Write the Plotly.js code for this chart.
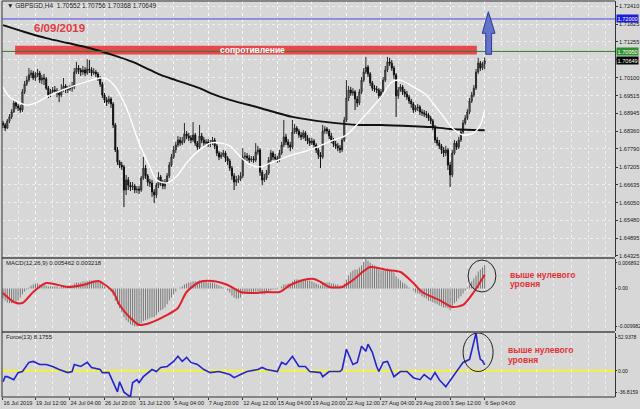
<!DOCTYPE html>
<html><head><meta charset="utf-8">
<script src="https://cdn.plot.ly/plotly-3.0.1.min.js"></script>
<style>html,body{margin:0;padding:0;background:#d7d7d7;}#chart{width:640px;height:409px;}</style>
</head><body><div id="chart"></div>
<script>
// ---- time axis labels (bar index -> label) ----
const tickIdx = [0,15,31,47,63,79,95,111,127,143,159,175,191,207,223];
const tickText = ['16 Jul 2019','19 Jul 12:00','24 Jul 04:00','26 Jul 20:00','31 Jul 12:00','5 Aug 04:00','7 Aug 20:00','12 Aug 12:00','15 Aug 04:00','19 Aug 20:00','22 Aug 12:00','27 Aug 04:00','29 Aug 20:00','3 Sep 12:00','6 Sep 04:00'];

// ---- GBPSGD H4 candles ----
const open = [1.6863,
1.6857,1.6847,1.6870,1.6883,1.6899,1.6928,1.6918,1.6912,1.6905,1.6964,
1.6989,1.7002,1.7019,1.7025,1.7009,1.7019,1.7025,1.7002,1.7009,1.7006,
1.6976,1.6954,1.6964,1.6970,1.6967,1.6960,1.6954,1.6970,1.6983,1.6970,
1.6973,1.6976,1.6980,1.7028,1.7041,1.7035,1.7028,1.7035,1.7025,1.7038,
1.7035,1.7025,1.7028,1.7022,1.7009,1.6989,1.6954,1.6938,1.6931,1.6941,
1.6925,1.6857,1.6776,1.6737,1.6727,1.6721,1.6646,1.6679,1.6662,1.6656,
1.6659,1.6646,1.6649,1.6646,1.6685,1.6717,1.6692,1.6672,1.6669,1.6640,
1.6630,1.6662,1.6688,1.6669,1.6659,1.6672,1.6692,1.6727,1.6753,1.6776,
1.6792,1.6808,1.6798,1.6805,1.6828,1.6821,1.6815,1.6808,1.6824,1.6798,
1.6785,1.6821,1.6808,1.6798,1.6802,1.6795,1.6798,1.6808,1.6789,1.6766,
1.6753,1.6760,1.6766,1.6750,1.6740,1.6717,1.6692,1.6672,1.6679,1.6682,
1.6692,1.6753,1.6756,1.6750,1.6743,1.6747,1.6743,1.6769,1.6776,1.6704,
1.6679,1.6685,1.6701,1.6743,1.6766,1.6753,1.6747,1.6743,1.6766,1.6792,
1.6818,1.6802,1.6792,1.6785,1.6834,1.6847,1.6837,1.6824,1.6818,1.6831,
1.6815,1.6805,1.6798,1.6805,1.6792,1.6776,1.6760,1.6753,1.6837,1.6844,
1.6837,1.6821,1.6808,1.6795,1.6789,1.6782,1.6776,1.6808,1.6873,1.6944,
1.6970,1.6960,1.6964,1.6941,1.6928,1.6964,1.7002,1.7028,1.7044,1.7022,
1.6993,1.6976,1.6973,1.6970,1.6951,1.6964,1.7002,1.7035,1.7061,1.7057,
1.7041,1.7019,1.6951,1.6970,1.6980,1.6964,1.6957,1.6947,1.6934,1.6925,
1.6905,1.6912,1.6915,1.6899,1.6896,1.6892,1.6889,1.6879,1.6870,1.6850,
1.6808,1.6798,1.6789,1.6776,1.6766,1.6776,1.6727,1.6695,1.6766,1.6798,
1.6785,1.6808,1.6834,1.6863,1.6879,1.6899,1.6934,1.6954,1.6976,1.7028,
1.7057,1.7041,1.70552];
const high = [1.6870,1.6863,1.6876,1.6892,1.6908,1.6938,1.6934,1.6925,1.6921,1.6973,
1.6999,1.7015,1.7041,1.7035,1.7032,1.7028,1.7038,1.7032,1.7019,1.7022,
1.7012,1.6983,1.6973,1.6980,1.6983,1.6976,1.6970,1.6989,1.7009,1.6989,
1.6983,1.6986,1.6996,1.7041,1.7061,1.7051,1.7041,1.7048,1.7044,1.7070,
1.7067,1.7044,1.7041,1.7035,1.7028,1.7015,1.6996,1.6960,1.6947,1.6951,
1.6947,1.6931,1.6863,1.6785,1.6743,1.6737,1.6727,1.6695,1.6688,1.6672,
1.6672,1.6666,1.6659,1.6659,1.6692,1.6753,1.6727,1.6698,1.6682,1.6679,
1.6649,1.6669,1.6704,1.6695,1.6679,1.6682,1.6701,1.6737,1.6763,1.6789,
1.6802,1.6821,1.6818,1.6818,1.6863,1.6837,1.6831,1.6824,1.6866,1.6831,
1.6805,1.6857,1.6831,1.6818,1.6811,1.6811,1.6808,1.6818,1.6815,1.6795,
1.6772,1.6769,1.6776,1.6772,1.6756,1.6747,1.6724,1.6701,1.6692,1.6695,
1.6704,1.6782,1.6769,1.6766,1.6760,1.6756,1.6756,1.6798,1.6789,1.6782,
1.6711,1.6698,1.6711,1.6753,1.6776,1.6772,1.6763,1.6756,1.6776,1.6802,
1.6873,1.6828,1.6811,1.6802,1.6873,1.6860,1.6853,1.6844,1.6834,1.6840,
1.6837,1.6824,1.6815,1.6815,1.6811,1.6798,1.6782,1.6769,1.6857,1.6853,
1.6850,1.6844,1.6831,1.6815,1.6805,1.6798,1.6792,1.6818,1.6883,1.7002,
1.6983,1.6980,1.6976,1.6970,1.6951,1.6973,1.7012,1.7041,1.7077,1.7051,
1.7028,1.6999,1.6986,1.6983,1.6976,1.6973,1.7012,1.7048,1.7077,1.7074,
1.7067,1.7048,1.7025,1.6980,1.6989,1.6986,1.6973,1.6967,1.6954,1.6941,
1.6931,1.6921,1.6925,1.6921,1.6908,1.6905,1.6902,1.6896,1.6886,1.6876,
1.6857,1.6818,1.6808,1.6795,1.6785,1.6789,1.6782,1.6737,1.6776,1.6808,
1.6805,1.6818,1.6844,1.6873,1.6889,1.6908,1.6944,1.6964,1.6986,1.7038,
1.7074,1.7064,1.7061,1.70756];
const low = [1.6847,1.6837,1.6844,1.6863,1.6876,1.6896,1.6908,1.6902,1.6896,1.6899,
1.6957,1.6983,1.6996,1.7009,1.7002,1.6999,1.7012,1.6993,1.6989,1.6986,
1.6970,1.6944,1.6947,1.6957,1.6957,1.6947,1.6931,1.6947,1.6964,1.6960,
1.6960,1.6967,1.6964,1.6973,1.7022,1.7022,1.7015,1.7019,1.7015,1.7019,
1.7025,1.7015,1.7019,1.7012,1.6999,1.6980,1.6944,1.6928,1.6918,1.6925,
1.6912,1.6847,1.6769,1.6727,1.6717,1.6711,1.6591,1.6630,1.6646,1.6643,
1.6646,1.6636,1.6636,1.6633,1.6640,1.6679,1.6682,1.6659,1.6656,1.6624,
1.6604,1.6620,1.6653,1.6659,1.6649,1.6649,1.6666,1.6685,1.6721,1.6747,
1.6766,1.6785,1.6789,1.6792,1.6798,1.6811,1.6805,1.6798,1.6802,1.6789,
1.6776,1.6779,1.6798,1.6789,1.6792,1.6785,1.6785,1.6792,1.6779,1.6756,
1.6743,1.6747,1.6753,1.6737,1.6727,1.6708,1.6679,1.6646,1.6659,1.6669,
1.6675,1.6685,1.6743,1.6740,1.6734,1.6737,1.6734,1.6737,1.6760,1.6692,
1.6662,1.6672,1.6679,1.6695,1.6737,1.6743,1.6737,1.6734,1.6737,1.6760,
1.6785,1.6792,1.6782,1.6772,1.6779,1.6828,1.6828,1.6815,1.6808,1.6811,
1.6805,1.6795,1.6789,1.6792,1.6782,1.6766,1.6747,1.6717,1.6747,1.6828,
1.6828,1.6811,1.6798,1.6785,1.6779,1.6772,1.6766,1.6769,1.6802,1.6866,
1.6934,1.6951,1.6951,1.6905,1.6915,1.6921,1.6957,1.6996,1.7022,1.7012,
1.6983,1.6967,1.6964,1.6960,1.6941,1.6944,1.6957,1.6996,1.7028,1.7048,
1.7032,1.7006,1.6883,1.6941,1.6964,1.6954,1.6947,1.6938,1.6925,1.6912,
1.6896,1.6899,1.6902,1.6889,1.6886,1.6883,1.6879,1.6870,1.6860,1.6840,
1.6798,1.6789,1.6779,1.6763,1.6753,1.6756,1.6711,1.6656,1.6688,1.6760,
1.6776,1.6779,1.6802,1.6828,1.6857,1.6873,1.6892,1.6928,1.6947,1.6970,
1.7022,1.7032,1.7035,1.70368];
const close = [1.6857,1.6847,1.6870,1.6883,1.6899,1.6928,1.6918,1.6912,1.6905,1.6964,
1.6989,1.7002,1.7019,1.7025,1.7009,1.7019,1.7025,1.7002,1.7009,1.7006,
1.6976,1.6954,1.6964,1.6970,1.6967,1.6960,1.6954,1.6970,1.6983,1.6970,
1.6973,1.6976,1.6980,1.7028,1.7041,1.7035,1.7028,1.7035,1.7025,1.7038,
1.7035,1.7025,1.7028,1.7022,1.7009,1.6989,1.6954,1.6938,1.6931,1.6941,
1.6925,1.6857,1.6776,1.6737,1.6727,1.6721,1.6646,1.6679,1.6662,1.6656,
1.6659,1.6646,1.6649,1.6646,1.6685,1.6717,1.6692,1.6672,1.6669,1.6640,
1.6630,1.6662,1.6688,1.6669,1.6659,1.6672,1.6692,1.6727,1.6753,1.6776,
1.6792,1.6808,1.6798,1.6805,1.6828,1.6821,1.6815,1.6808,1.6824,1.6798,
1.6785,1.6821,1.6808,1.6798,1.6802,1.6795,1.6798,1.6808,1.6789,1.6766,
1.6753,1.6760,1.6766,1.6750,1.6740,1.6717,1.6692,1.6672,1.6679,1.6682,
1.6692,1.6753,1.6756,1.6750,1.6743,1.6747,1.6743,1.6769,1.6776,1.6704,
1.6679,1.6685,1.6701,1.6743,1.6766,1.6753,1.6747,1.6743,1.6766,1.6792,
1.6818,1.6802,1.6792,1.6785,1.6834,1.6847,1.6837,1.6824,1.6818,1.6831,
1.6815,1.6805,1.6798,1.6805,1.6792,1.6776,1.6760,1.6753,1.6837,1.6844,
1.6837,1.6821,1.6808,1.6795,1.6789,1.6782,1.6776,1.6808,1.6873,1.6944,
1.6970,1.6960,1.6964,1.6941,1.6928,1.6964,1.7002,1.7028,1.7044,1.7022,
1.6993,1.6976,1.6973,1.6970,1.6951,1.6964,1.7002,1.7035,1.7061,1.7057,
1.7041,1.7019,1.6951,1.6970,1.6980,1.6964,1.6957,1.6947,1.6934,1.6925,
1.6905,1.6912,1.6915,1.6899,1.6896,1.6892,1.6889,1.6879,1.6870,1.6850,
1.6808,1.6798,1.6789,1.6776,1.6766,1.6776,1.6727,1.6695,1.6766,1.6798,
1.6785,1.6808,1.6834,1.6863,1.6879,1.6899,1.6934,1.6954,1.6976,1.7028,
1.7057,1.7041,1.7055,1.70649];

// ---- moving averages (read at bar indices) ----
const maSlowIdx = [0,10,20,30,40,51,60,68,73,80,91,96,105,119,134,150,165,175,190,198,207,223];
const maSlow = [1.7180,1.7158,1.7138,1.7122,1.7106,1.7083,1.7061,1.7035,1.7019,1.7002,1.6976,1.6960,1.6938,1.6912,1.6883,1.6866,1.6857,1.6857,1.6853,1.6850,1.6844,1.6840];
const maFastIdx = [0,3,8,11,16,22,30,37,45,48,52,57,63,68,71,76,81,85,91,96,101,105,110,114,119,124,134,142,153,159,167,175,180,184,190,196,199,204,208,213,218,221,223];
const maFast = [1.6980,1.6947,1.6928,1.6921,1.6931,1.6954,1.6976,1.6993,1.7009,1.7006,1.6980,1.6915,1.6798,1.6721,1.6679,1.6669,1.6695,1.6734,1.6776,1.6798,1.6798,1.6789,1.6753,1.6730,1.6721,1.6734,1.6760,1.6776,1.6808,1.6824,1.6883,1.6947,1.6996,1.7002,1.6980,1.6954,1.6928,1.6883,1.6847,1.6824,1.6831,1.6857,1.6905];

// ---- MACD(12,26,9) ----
const macdHist = [-0.00234,-0.00281,-0.00328,-0.00351,-0.00351,-0.00328,-0.00304,-0.00281,-0.00211,-0.00140,
-0.00070,-0.00023,0.00023,0.00070,0.00094,0.00117,0.00117,0.00094,0.00094,0.00094,
0.00070,0.00047,0.00047,0.00047,0.00047,0.00047,0.00023,0.00047,0.00047,0.00070,
0.00070,0.00070,0.00070,0.00117,0.00140,0.00140,0.00140,0.00164,0.00164,0.00164,
0.00187,0.00187,0.00187,0.00187,0.00164,0.00140,0.00094,0.00047,0.00000,-0.00023,
-0.00070,-0.00164,-0.00281,-0.00374,-0.00468,-0.00562,-0.00679,-0.00749,-0.00796,-0.00842,
-0.00866,-0.00889,-0.00889,-0.00866,-0.00819,-0.00772,-0.00749,-0.00725,-0.00702,-0.00679,
-0.00679,-0.00632,-0.00562,-0.00515,-0.00491,-0.00445,-0.00374,-0.00281,-0.00211,-0.00140,
-0.00070,0.00000,0.00023,0.00047,0.00094,0.00117,0.00140,0.00140,0.00164,0.00164,
0.00164,0.00187,0.00187,0.00164,0.00164,0.00140,0.00140,0.00140,0.00117,0.00094,
0.00070,0.00047,0.00023,0.00000,-0.00047,-0.00094,-0.00164,-0.00211,-0.00234,-0.00234,
-0.00211,-0.00140,-0.00117,-0.00117,-0.00094,-0.00094,-0.00094,-0.00070,-0.00070,-0.00094,
-0.00140,-0.00140,-0.00117,-0.00070,-0.00047,-0.00023,-0.00023,-0.00023,0.00000,0.00047,
0.00094,0.00094,0.00117,0.00117,0.00164,0.00211,0.00211,0.00211,0.00211,0.00211,
0.00211,0.00187,0.00187,0.00164,0.00140,0.00117,0.00094,0.00070,0.00117,0.00140,
0.00140,0.00140,0.00117,0.00117,0.00094,0.00094,0.00070,0.00070,0.00117,0.00211,
0.00304,0.00374,0.00421,0.00445,0.00445,0.00491,0.00538,0.00620,0.00689,0.00650,
0.00600,0.00562,0.00538,0.00491,0.00445,0.00421,0.00421,0.00445,0.00468,0.00445,
0.00421,0.00374,0.00281,0.00234,0.00187,0.00140,0.00117,0.00070,0.00023,0.00000,
-0.00047,-0.00094,-0.00117,-0.00140,-0.00187,-0.00211,-0.00234,-0.00281,-0.00304,-0.00328,
-0.00351,-0.00374,-0.00398,-0.00421,-0.00445,-0.00445,-0.00468,-0.00515,-0.00421,-0.00351,
-0.00304,-0.00234,-0.00187,-0.00117,-0.00047,0.00023,0.00094,0.00164,0.00234,0.00304,
0.00398,0.00445,0.00491,0.005462];
const sigIdx = [0,5,9,14,20,30,37,44,46,51,54,59,63,68,76,81,85,91,97,104,110,116,122,128,133,139,144,147,151,157,162,170,178,184,190,194,202,208,213,218,223];
const sigVal = [-0.00108,-0.00318,-0.00342,-0.00084,0.00126,0.00033,0.00080,0.00173,0.00126,-0.00084,-0.00388,-0.00693,-0.00856,-0.00810,-0.00622,-0.00459,-0.00084,0.00150,0.00173,0.00080,-0.00084,-0.00108,-0.00084,-0.00084,0.00080,0.00197,0.00220,0.00150,0.00033,0.00033,0.00197,0.00501,0.00431,0.00384,0.00126,-0.00084,-0.00271,-0.00435,-0.00388,-0.00084,0.003218];

// ---- Force(13) ----
const forceIdx = [0,1,2,5,7,9,12,14,17,20,23,26,30,32,33,36,39,41,45,46,49,51,53,54,56,59,60,62,63,65,67,69,71,73,76,79,81,83,85,87,90,93,96,100,105,107,110,113,118,120,122,127,129,131,134,137,140,142,147,148,151,156,157,159,162,164,166,168,169,171,173,174,176,178,179,181,184,187,190,193,195,198,200,202,205,208,210,213,216,219,220,221,222,223];
const forceVal = [-15.4,-8.3,-8.3,-12.5,-2.6,-1.1,11.7,13.1,8.8,8.8,6.0,1.7,-2.6,-1.1,8.8,6.0,11.7,4.6,1.7,-2.6,-2.6,-16.8,-29.6,-15.4,-30.0,-36.8,-16.8,-12.5,-16.8,-8.3,-2.6,1.7,-1.1,4.6,6.0,13.1,20.2,13.1,18.8,11.7,8.8,1.7,-2.6,-1.1,-5.4,-9.7,-5.4,-1.1,1.7,4.6,1.7,-1.1,11.7,8.8,20.2,6.0,6.0,-1.1,-2.6,-8.3,-1.1,-1.1,1.7,30.2,8.8,11.7,34.5,27.4,37.3,25.9,6.0,-1.1,11.7,13.1,6.0,-8.3,-1.1,-1.1,-9.7,-12.5,-5.4,-12.5,-2.6,-12.5,-22.5,-9.7,-2.6,11.7,16.0,52.9,30.2,16.0,14.0,8.18];

// ---- price levels / axis labels ----
const mainTicks = [1.72410,1.71825,1.71255,1.70685,1.70100,1.69515,1.68945,1.68360,1.67790,1.67205,1.66635,1.66050,1.65480,1.64895,1.64325];
const mainTickText = ['1.72410','1.71825','1.71255','','1.70100','1.69515','1.68945','1.68360','1.67790','1.67205','1.66635','1.66050','1.65480','1.64895','1.64325'];
const targetLevel = 1.72000;
const resistLevel = 1.70950;
const lastPrice = 1.70649;
const resistZone = [1.70849, 1.71134];
const macdRange = [-0.009982, 0.006892];
const forceRange = [-36.8159, 52.9378];

const idx = close.map((_, i) => i);
const F = '"Liberation Sans", Arial, sans-serif';
const BG = '#d7d7d7';
const GRID = 'rgba(255,255,255,0.6)';

const traces = [
  {type:'candlestick', x:idx, open:open, high:high, low:low, close:close, xaxis:'x', yaxis:'y',
   increasing:{line:{color:'#2a2a2a', width:1}, fillcolor:'#8a8a8a'},
   decreasing:{line:{color:'#111111', width:1}, fillcolor:'#111111'},
   whiskerwidth:0, hoverinfo:'skip'},
  {type:'scatter', mode:'lines', x:maSlowIdx, y:maSlow, xaxis:'x', yaxis:'y', line:{color:'#111', width:2, shape:'spline', smoothing:0.8}, hoverinfo:'skip'},
  {type:'scatter', mode:'lines', x:maFastIdx, y:maFast, xaxis:'x', yaxis:'y', line:{color:'#ffffff', width:1.4, shape:'spline', smoothing:0.8}, hoverinfo:'skip'},
  {type:'bar', x:idx, y:macdHist, xaxis:'x', yaxis:'y2', width:0.45, marker:{color:'#767676', line:{width:0}}, hoverinfo:'skip'},
  {type:'scatter', mode:'lines', x:sigIdx, y:sigVal, xaxis:'x', yaxis:'y2', line:{color:'#e0202a', width:2, shape:'spline', smoothing:0.7}, hoverinfo:'skip'},
  {type:'scatter', mode:'lines', x:forceIdx, y:forceVal, xaxis:'x', yaxis:'y3', line:{color:'#2424cc', width:1.6}, hoverinfo:'skip'}
];

const pxY = y => (397 - y) / 396;   // paper y from a pixel row
const pxX = x => (x - 2) / 613;     // paper x from a pixel column

const axisFont = {family:F, size:5.6, color:'#1a1a1a'};
const smallFont = {family:F, size:5.1, color:'#1a1a1a'};
const layout = {
  width:640, height:409, margin:{l:2, r:25, t:1, b:12},
  paper_bgcolor:BG, plot_bgcolor:BG, showlegend:false, hovermode:false,
  font:{family:F, size:6, color:'#1a1a1a'},
  xaxis:{anchor:'y3', range:[-0.46, 283.34], tickmode:'array', tickvals:tickIdx, ticktext:tickText, tickangle:0,
    ticklabelposition:'outside right', ticks:'outside', ticklen:2, tickcolor:'#333',
    showgrid:true, gridcolor:GRID, griddash:'dot', gridwidth:1,
    minor:{tick0:7, dtick:8, showgrid:true, gridcolor:GRID, griddash:'dot', ticks:''},
    zeroline:false, showline:false, rangeslider:{visible:false}, tickfont:axisFont},
  yaxis:{domain:[0.3535,1], anchor:'x', side:'right', range:[1.64292,1.72582], tickmode:'array',
    tickvals:mainTicks, ticktext:mainTickText, ticks:'outside', ticklen:2, tickcolor:'#333',
    showgrid:true, gridcolor:GRID, griddash:'dot', zeroline:false, showline:true, linecolor:'#333', linewidth:1, tickfont:axisFont},
  yaxis2:{domain:[0.1667,0.3485], anchor:'x', side:'right', range:macdRange, tickmode:'array',
    tickvals:[0.00600, 0, -0.00895], ticktext:['0.006892','0.00','-0.009982'], ticks:'outside', ticklen:1, tickcolor:'#333',
    showgrid:false, zeroline:false, showline:true, linecolor:'#333', linewidth:1, tickfont:smallFont},
  yaxis3:{domain:[0,0.1616], anchor:'x', side:'right', range:forceRange, tickmode:'array',
    tickvals:[46.5, 0, -30.0], ticktext:['52.9378','0.00','-36.8159'], ticks:'outside', ticklen:1, tickcolor:'#333',
    showgrid:false, zeroline:false, showline:true, linecolor:'#333', linewidth:1, tickfont:smallFont},
  shapes:[
    // panel separators and frame
    {type:'rect', xref:'paper', yref:'paper', x0:0, x1:1, y0:0.3485, y1:0.3535, fillcolor:'#6a6a6a', line:{width:0}},
    {type:'rect', xref:'paper', yref:'paper', x0:0, x1:1, y0:0.1616, y1:0.1667, fillcolor:'#6a6a6a', line:{width:0}},
    {type:'line', xref:'paper', yref:'paper', x0:0, x1:0, y0:0, y1:1, line:{color:'#333', width:1}},
    {type:'line', xref:'paper', yref:'paper', x0:0, x1:1, y0:1, y1:1, line:{color:'#333', width:1}},
    {type:'line', xref:'paper', yref:'paper', x0:0, x1:1, y0:0, y1:0, line:{color:'#333', width:1}},
    // levels
    {type:'line', xref:'paper', yref:'y', x0:0, x1:1, y0:targetLevel, y1:targetLevel, line:{color:'#4848e8', width:1}},
    {type:'line', xref:'paper', yref:'y', x0:0, x1:1, y0:resistLevel, y1:resistLevel, line:{color:'#2e7a2e', width:1}},
    {type:'rect', xref:'x', yref:'y', x0:5.6, x1:219.4, y0:resistZone[0], y1:resistZone[1], fillcolor:'#e8474c', line:{width:0}, layer:'between'},
    // up arrow
    {type:'path', xref:'x', yref:'y', path:'M 223.5,1.70856 L 223.5,1.71536 L 221.9,1.71536 L 224.7,1.72235 L 227.8,1.71536 L 226.2,1.71536 L 226.2,1.70856 Z',
     fillcolor:'#6273c9', line:{color:'#2b3a94', width:1}},
    // circles
    {type:'circle', xref:'x', yref:'y2', x0:215.3, x1:228.2, y0:-0.00084, y1:0.00665, line:{color:'#222', width:1}},
    {type:'circle', xref:'x', yref:'y3', x0:213, x1:226.9, y0:-1.1, y1:53, line:{color:'#222', width:1}},
    // Force zero level
    {type:'line', xref:'paper', yref:'y3', x0:0, x1:1, y0:0, y1:0, line:{color:'#f2f23a', width:2}, layer:'between'}
  ],
  annotations:[
    {xref:'paper', yref:'paper', x:pxX(5), y:pxY(5.5), xanchor:'left', yanchor:'middle', showarrow:false,
     text:'▼ GBPSGD,H4  1.70552 1.70756 1.70368 1.70649', font:{family:F, size:6.5, color:'#1a1a1a'}},
    {xref:'paper', yref:'paper', x:pxX(32), y:pxY(27.5), xanchor:'left', yanchor:'middle', showarrow:false,
     text:'<b>6/09/2019</b>', font:{family:F, size:11.5, color:'#e23b3f'}},
    {xref:'x', yref:'y', x:115.5, y:1.70995, xanchor:'center', yanchor:'middle', showarrow:false,
     text:'<b>сопротивление</b>', font:{family:F, size:8.5, color:'#ffffff'}},
    {xref:'paper', yref:'y', x:1, y:targetLevel, xanchor:'left', xshift:1, showarrow:false, text:'1.72000',
     bgcolor:'#1c1cd8', borderpad:0.5, font:{family:F, size:5.6, color:'#ffffff'}},
    {xref:'paper', yref:'y', x:1, y:resistLevel, xanchor:'left', xshift:1, showarrow:false, text:'1.70950',
     bgcolor:'#2f8f2f', borderpad:0.5, font:{family:F, size:5.6, color:'#ffffff'}},
    {xref:'paper', yref:'y', x:1, y:lastPrice, xanchor:'left', xshift:1, showarrow:false, text:'1.70649',
     bgcolor:'#000000', borderpad:0.5, font:{family:F, size:5.6, color:'#ffffff'}},
    {xref:'paper', yref:'paper', x:pxX(4), y:pxY(262.5), xanchor:'left', yanchor:'middle', showarrow:false,
     text:'MACD(12,26,9) 0.005462 0.003218', font:{family:F, size:6, color:'#1a1a1a'}},
    {xref:'paper', yref:'paper', x:pxX(4), y:pxY(336.5), xanchor:'left', yanchor:'middle', showarrow:false,
     text:'Force(13) 8.1755', font:{family:F, size:6, color:'#1a1a1a'}},
    {xref:'paper', yref:'paper', x:pxX(508), y:pxY(275), xanchor:'left', yanchor:'middle', showarrow:false,
     text:'<b>выше нулевого</b>', font:{family:F, size:8.5, color:'#e03236'}},
    {xref:'paper', yref:'paper', x:pxX(508), y:pxY(284.5), xanchor:'left', yanchor:'middle', showarrow:false,
     text:'<b>уровня</b>', font:{family:F, size:8.5, color:'#e03236'}},
    {xref:'paper', yref:'paper', x:pxX(506), y:pxY(350), xanchor:'left', yanchor:'middle', showarrow:false,
     text:'<b>выше нулевого</b>', font:{family:F, size:8.5, color:'#e03236'}},
    {xref:'paper', yref:'paper', x:pxX(506), y:pxY(359.5), xanchor:'left', yanchor:'middle', showarrow:false,
     text:'<b>уровня</b>', font:{family:F, size:8.5, color:'#e03236'}}
  ]
};

Plotly.newPlot('chart', traces, layout, {staticPlot:true, displayModeBar:false});
</script></body></html>
